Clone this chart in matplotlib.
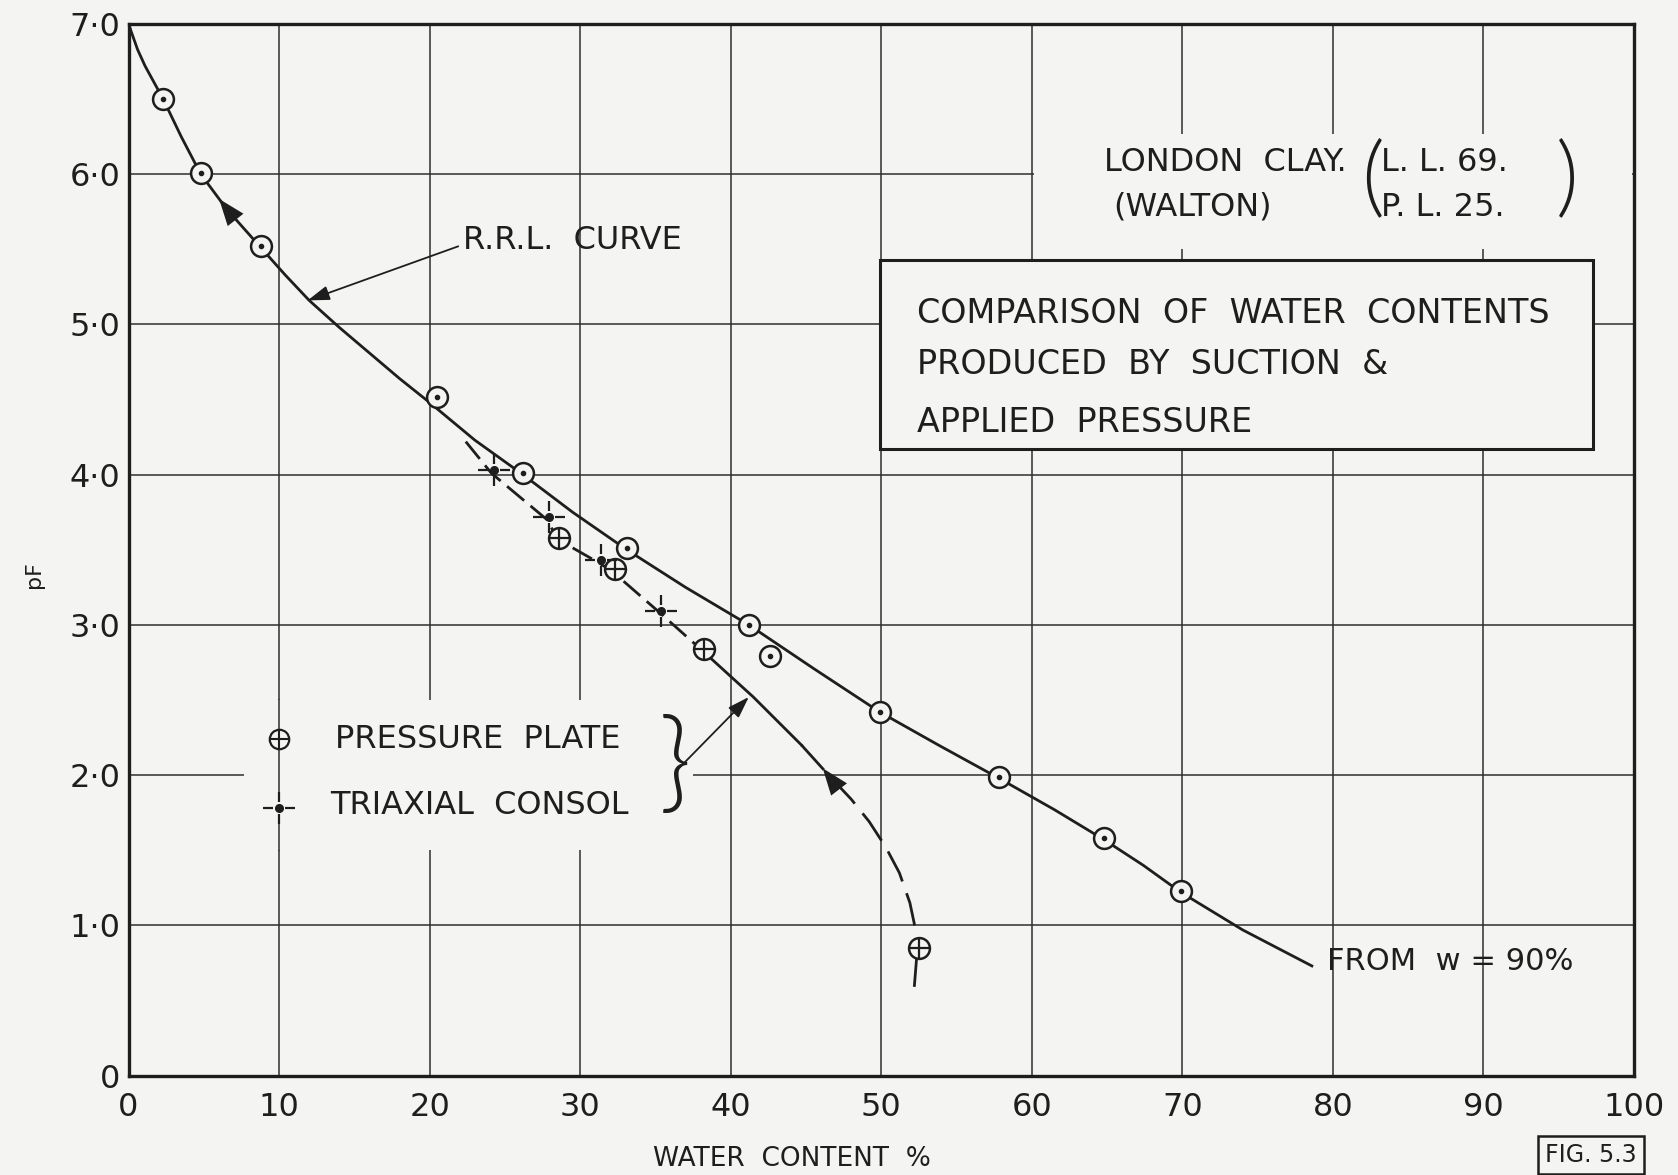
import matplotlib.pyplot as plt
from matplotlib.path import Path
from matplotlib.patches import Rectangle

# R.R.L. suction test points (water content %, pF)
rrl_w = [2.3, 4.8, 8.8, 20.5, 26.2, 33.1, 41.2, 42.6, 49.9, 57.8, 64.8, 69.9]
rrl_pf = [6.50, 6.01, 5.52, 4.52, 4.01, 3.51, 3.00, 2.79, 2.42, 1.99, 1.58, 1.23]

# R.R.L. curve as drawn (from w = 90%)
rrl_line_w = [0, 0.6, 1.1, 2.3, 3.5, 4.8, 6.5, 8.8, 10.4, 12.0, 14.0, 16.0, 18.0,
              20.0, 23.0, 26.2, 29.5, 33.1, 37.0, 41.2, 45.5, 49.9, 53.8, 57.8,
              61.5, 64.8, 67.4, 69.9, 74.0, 78.6]
rrl_line_pf = [7.0, 6.83, 6.72, 6.50, 6.25, 6.0, 5.77, 5.51, 5.33, 5.16, 4.98, 4.81,
               4.64, 4.48, 4.23, 4.0, 3.75, 3.50, 3.25, 3.0, 2.71, 2.42, 2.20, 1.98,
               1.77, 1.57, 1.40, 1.22, 0.97, 0.73]

# pressure plate and triaxial consolidation results
plate_w = [28.6, 32.3, 38.2, 52.5]
plate_pf = [3.58, 3.37, 2.84, 0.85]
triax_w = [24.3, 27.9, 31.4, 35.4]
triax_pf = [4.03, 3.72, 3.43, 3.09]

# curve through the applied pressure results
test_a_w = [22.4, 24.1, 27.8, 28.5, 31.3, 32.2, 35.3, 38.1]
test_a_pf = [4.22, 4.01, 3.70, 3.57, 3.41, 3.35, 3.08, 2.83]
test_b_w = [38.1, 41.5, 44.7]
test_b_pf = [2.83, 2.52, 2.20]
test_c_w = [44.7, 46.5, 48.0, 49.2, 50.3, 51.2, 51.9, 52.3]
test_c_pf = [2.20, 2.0, 1.84, 1.69, 1.52, 1.35, 1.15, 0.96]
test_d_w = [52.4, 52.2]
test_d_pf = [0.85, 0.60]

x_ticks = [0, 10, 20, 30, 40, 50, 60, 70, 80, 90, 100]
x_labels = ['0', '10', '20', '30', '40', '50', '60', '70', '80', '90', '100']
y_ticks = [0, 1, 2, 3, 4, 5, 6, 7]
y_labels = ['0', '1·0', '2·0', '3·0', '4·0', '5·0', '6·0', '7·0']

bg = '#f4f4f2'
ink = '#1e1e1e'
plt.rcParams['font.family'] = ['DejaVu Sans']

fig = plt.figure(figsize=(16.78, 11.75), dpi=100, facecolor=bg)
ax = fig.add_axes([0.0766, 0.0846, 0.8972, 0.895], facecolor=bg)
ax.set_xlim(0, 100)
ax.set_ylim(0, 7)
ax.set_xticks(x_ticks)
ax.set_xticklabels(x_labels)
ax.set_yticks(y_ticks)
ax.set_yticklabels(y_labels)
ax.tick_params(length=0, labelsize=23, colors=ink, pad=12)
ax.tick_params(axis='y', pad=6)
ax.set_axisbelow(True)
ax.grid(color='#2e2e2e', lw=1.1)
for s in ax.spines.values():
    s.set_linewidth(2.4)
    s.set_color(ink)

# blank areas where the lettering sits
for (x0, y0, w, h) in [(60.15, 5.5, 39.7, 0.77), (77, 5.43, 5, 0.1), (7.7, 1.5, 29.8, 1.0)]:
    ax.add_patch(Rectangle((x0, y0), w, h, facecolor=bg, edgecolor='none', zorder=1))

# curves
ax.plot(rrl_line_w, rrl_line_pf, color=ink, lw=2.0, zorder=3)
ax.plot(test_a_w, test_a_pf, color=ink, lw=2.0, dashes=(8, 3), zorder=3)
ax.plot(test_b_w, test_b_pf, color=ink, lw=2.0, zorder=3)
ax.plot(test_c_w, test_c_pf, color=ink, lw=2.0, dashes=(12, 4.5), zorder=3)
ax.plot(test_d_w, test_d_pf, color=ink, lw=2.0, zorder=3)

# markers
ax.plot(rrl_w, rrl_pf, ls='none', marker='o', ms=15, mfc=bg, mec=ink, mew=1.8, zorder=4)
ax.plot(rrl_w, rrl_pf, ls='none', marker='o', ms=3, color=ink, zorder=5)
ax.plot(plate_w, plate_pf, ls='none', marker='o', ms=15, mfc=bg, mec=ink, mew=1.8, zorder=4)
ax.plot(plate_w, plate_pf, ls='none', marker='+', ms=15, mec=ink, mew=1.6, zorder=5)

tri = Path([(-1, 0), (-0.35, 0), (0.35, 0), (1, 0), (0, -1), (0, -0.35), (0, 0.35), (0, 1)],
           [Path.MOVETO, Path.LINETO] * 4)
ax.plot(triax_w, triax_pf, ls='none', marker=tri, ms=23, mec=ink, mew=1.6, zorder=5)
ax.plot(triax_w, triax_pf, ls='none', marker='o', ms=5.5, color=ink, zorder=5)

# direction arrows on the curves
arr = dict(arrowstyle='-|>,head_length=0.8,head_width=0.3', color=ink, lw=0,
           mutation_scale=24)
ax.annotate('', xy=(5.9, 5.85), xytext=(7.0, 5.71), arrowprops=arr, zorder=6)
ax.annotate('', xy=(46.0, 2.06), xytext=(47.0, 1.93), arrowprops=arr, zorder=6)

pointer = dict(arrowstyle='-|>,head_length=0.6,head_width=0.2', mutation_scale=22,
               color=ink, lw=1.3, shrinkA=0, shrinkB=0)

# R.R.L. curve label
ax.text(22.2, 5.56, 'R.R.L.  CURVE', fontsize=23, color=ink, va='center', ha='left')
ax.annotate('', xy=(11.9, 5.16), xytext=(21.9, 5.52), arrowprops=pointer)

# legend
ax.plot([10, 10], [1.5, 2.5], color='#2e2e2e', lw=1.1, zorder=2)
ax.plot([10], [2.24], ls='none', marker='o', ms=14, mfc=bg, mec=ink, mew=1.6, zorder=4)
ax.plot([10], [2.24], ls='none', marker='+', ms=14, mec=ink, mew=1.5, zorder=5)
ax.plot([10], [1.78], ls='none', marker='o', ms=12, mfc=bg, mec='none', zorder=4)
ax.plot([10], [1.78], ls='none', marker=tri, ms=23, mec=ink, mew=1.6, zorder=5)
ax.plot([10], [1.78], ls='none', marker='o', ms=5.5, color=ink, zorder=5)
ax.text(13.7, 2.24, 'PRESSURE  PLATE', fontsize=23, color=ink, va='center', ha='left')
ax.text(13.4, 1.80, 'TRIAXIAL  CONSOL', fontsize=23, color=ink, va='center', ha='left')
ax.text(35.2, 2.05, '}', fontsize=80, color=ink, va='center', ha='left',
        family=['Lato', 'DejaVu Sans'], fontweight=300)
ax.annotate('', xy=(41.2, 2.52), xytext=(36.6, 2.05), arrowprops=pointer)

ax.text(79.6, 0.76, 'FROM  w = 90%', fontsize=22, color=ink, va='center', ha='left')

# soil description
ax.text(64.8, 6.08, 'LONDON  CLAY.', fontsize=23, color=ink, va='center', ha='left')
ax.text(65.4, 5.78, '(WALTON)', fontsize=23, color=ink, va='center', ha='left')
ax.text(81.9, 5.95, '(', fontsize=64, color=ink, va='center', ha='left',
        family=['Lato', 'DejaVu Sans'], fontweight=300)
ax.text(83.2, 6.08, 'L. L. 69.', fontsize=23, color=ink, va='center', ha='left')
ax.text(83.2, 5.78, 'P. L. 25.', fontsize=23, color=ink, va='center', ha='left')
ax.text(94.8, 5.95, ')', fontsize=64, color=ink, va='center', ha='left',
        family=['Lato', 'DejaVu Sans'], fontweight=300)

# title box
ax.add_patch(Rectangle((49.9, 4.17), 47.4, 1.26, facecolor=bg, edgecolor=ink,
                       lw=2.2, zorder=2))
ax.text(52.4, 5.07, 'COMPARISON  OF  WATER  CONTENTS', fontsize=24, color=ink,
        va='center', ha='left', zorder=3)
ax.text(52.4, 4.73, 'PRODUCED  BY  SUCTION  &', fontsize=24, color=ink,
        va='center', ha='left', zorder=3)
ax.text(52.4, 4.35, 'APPLIED  PRESSURE', fontsize=24, color=ink,
        va='center', ha='left', zorder=3)

fig.text(0.020, 0.511, 'pF', rotation=90, fontsize=16, color=ink, va='center', ha='center')
fig.text(0.472, 0.0136, 'WATER  CONTENT  %', fontsize=19, color=ink, va='center', ha='center')
fig.text(0.921, 0.007, 'FIG. 5.3', fontsize=17, color=ink, va='bottom', ha='left',
         bbox=dict(boxstyle='square,pad=0.3', facecolor=bg, edgecolor=ink, lw=1.8))

fig.savefig('out.png', dpi=100, facecolor=bg)
